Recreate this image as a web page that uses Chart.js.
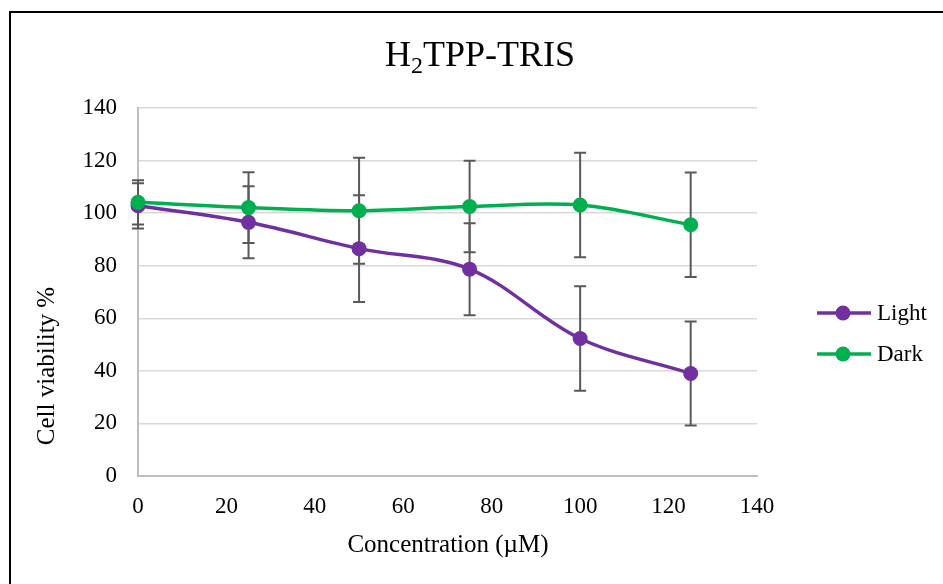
<!DOCTYPE html>
<html>
<head>
<meta charset="utf-8">
<script src="https://cdn.jsdelivr.net/npm/chart.js@4.4.1/dist/chart.umd.min.js"></script>
<style>
html, body { margin: 0; padding: 0; background: #fff; overflow: hidden; }
#wrap { position: relative; width: 943px; height: 584px; }
#frame { position: absolute; left: 9px; top: 11px; width: 960px; height: 600px; border: 2px solid #000; pointer-events: none; }
</style>
</head>
<body>
<div id="wrap">
  <canvas id="chart" width="943" height="584"></canvas>
  <div id="frame"></div>
</div>
<script>
// concentration (µM) and viability (%)
const concentrations = [0, 25, 50, 75, 100, 125];
const lightValues = [102.8, 96.5, 86.5, 78.7, 52.3, 39.0];
const lightErrors = [8.6, 13.7, 20.3, 17.5, 19.9, 19.8];
const darkValues = [104.1, 102.1, 100.9, 102.5, 103.1, 95.6];
const darkErrors = [8.4, 13.5, 20.2, 17.4, 19.9, 19.9];
const xTicks = [0, 20, 40, 60, 80, 100, 120, 140];

const serif = 'Liberation Serif, Times New Roman, serif';
const purple = '#7030A0';
const green = '#00B050';

const points = (vals) => concentrations.map((c, i) => ({ x: c, y: vals[i] }));

// error bars drawn under the lines
const errorBars = {
    id: 'errorBars',
    beforeDatasetsDraw(chart) {
        const ctx = chart.ctx;
        const xs = chart.scales.x, ys = chart.scales.y;
        ctx.save();
        ctx.strokeStyle = '#595959';
        ctx.lineWidth = 2;
        chart.data.datasets.forEach(ds => {
            ds.data.forEach((p, i) => {
                const px = xs.getPixelForValue(p.x);
                const top = ys.getPixelForValue(p.y + ds.errors[i]);
                const bot = ys.getPixelForValue(p.y - ds.errors[i]);
                ctx.beginPath();
                ctx.moveTo(px, top); ctx.lineTo(px, bot);
                ctx.moveTo(px - 6, top); ctx.lineTo(px + 6, top);
                ctx.moveTo(px - 6, bot); ctx.lineTo(px + 6, bot);
                ctx.stroke();
            });
        });
        ctx.restore();
    }
};

// title with subscript, axis titles and the legend
const decorations = {
    id: 'decorations',
    afterDraw(chart) {
        const ctx = chart.ctx;
        ctx.save();
        ctx.fillStyle = '#000';
        ctx.textBaseline = 'alphabetic';

        // title H2TPP-TRIS
        const big = '36px ' + serif, small = '24px ' + serif;
        ctx.font = big;
        const wH = ctx.measureText('H').width;
        const wRest = ctx.measureText('TPP-TRIS').width;
        ctx.font = small;
        const w2 = ctx.measureText('2').width;
        let tx = 480 - (wH + w2 + wRest) / 2;
        ctx.textAlign = 'left';
        ctx.font = big;
        ctx.fillText('H', tx, 66);
        tx += wH;
        ctx.font = small;
        ctx.fillText('2', tx, 73);
        tx += w2;
        ctx.font = big;
        ctx.fillText('TPP-TRIS', tx, 66);

        // axis titles
        ctx.font = '25px ' + serif;
        ctx.textAlign = 'center';
        ctx.textBaseline = 'middle';
        ctx.fillText('Concentration (\u00B5M)', 448, 545);
        ctx.save();
        ctx.translate(47, 366);
        ctx.rotate(-Math.PI / 2);
        ctx.fillText('Cell viability %', 0, 0);
        ctx.restore();

        // legend
        const items = [['Light', purple, 313], ['Dark', green, 354]];
        ctx.font = '23px ' + serif;
        ctx.textAlign = 'left';
        items.forEach(([label, color, ly]) => {
            ctx.strokeStyle = color;
            ctx.lineWidth = 3.5;
            ctx.beginPath();
            ctx.moveTo(817, ly); ctx.lineTo(871, ly);
            ctx.stroke();
            ctx.fillStyle = color;
            ctx.beginPath();
            ctx.arc(843, ly, 7.5, 0, Math.PI * 2);
            ctx.fill();
            ctx.fillStyle = '#000';
            ctx.fillText(label, 877, ly + 1);
        });
        ctx.restore();
    }
};

const ctx = document.getElementById('chart');
const chart = new Chart(ctx, {
    type: 'line',
    data: {
        datasets: [{
            label: 'Light',
            data: points(lightValues),
            errors: lightErrors,
            borderColor: purple,
            backgroundColor: purple,
            borderWidth: 3.5,
            pointRadius: 7.5,
            pointBorderWidth: 0,
            tension: 0.35,
            clip: false,
            order: 1,
        },
        {
            label: 'Dark',
            data: points(darkValues),
            errors: darkErrors,
            borderColor: green,
            backgroundColor: green,
            borderWidth: 3.5,
            pointRadius: 7.5,
            pointBorderWidth: 0,
            tension: 0.35,
            clip: false,
            order: 0,
        }],
    },
    options: {
        responsive: false,
        animation: false,
        devicePixelRatio: 1,
        layout: {
            padding: { top: 108, right: 186, left: 0, bottom: 0 }
        },
        plugins: {
            legend: { display: false },
            title: { display: false },
            tooltip: { enabled: false },
        },
        scales: {
            x: {
                type: 'linear',
                min: 0,
                max: 140,
                afterFit: (s) => { s.height = 108; },
                afterBuildTicks: (s) => { s.ticks = xTicks.map(v => ({ value: v })); },
                ticks: {
                    font: { family: serif, size: 23 },
                    color: '#000',
                    padding: 17,
                    maxRotation: 0,
                },
                grid: { display: false, drawTicks: false },
                border: { display: true, color: '#bfbfbf', width: 2 },
            },
            y: {
                min: 0,
                max: 140,
                afterFit: (s) => { s.width = 138; },
                ticks: {
                    stepSize: 20,
                    font: { family: serif, size: 23 },
                    color: '#000',
                    padding: 21,
                },
                grid: { color: '#d9d9d9', lineWidth: 1.5, drawTicks: false },
                border: { display: true, color: '#bfbfbf', width: 2 },
            }
        }
    },
    plugins: [errorBars, decorations]
});
</script>
</body>
</html>
